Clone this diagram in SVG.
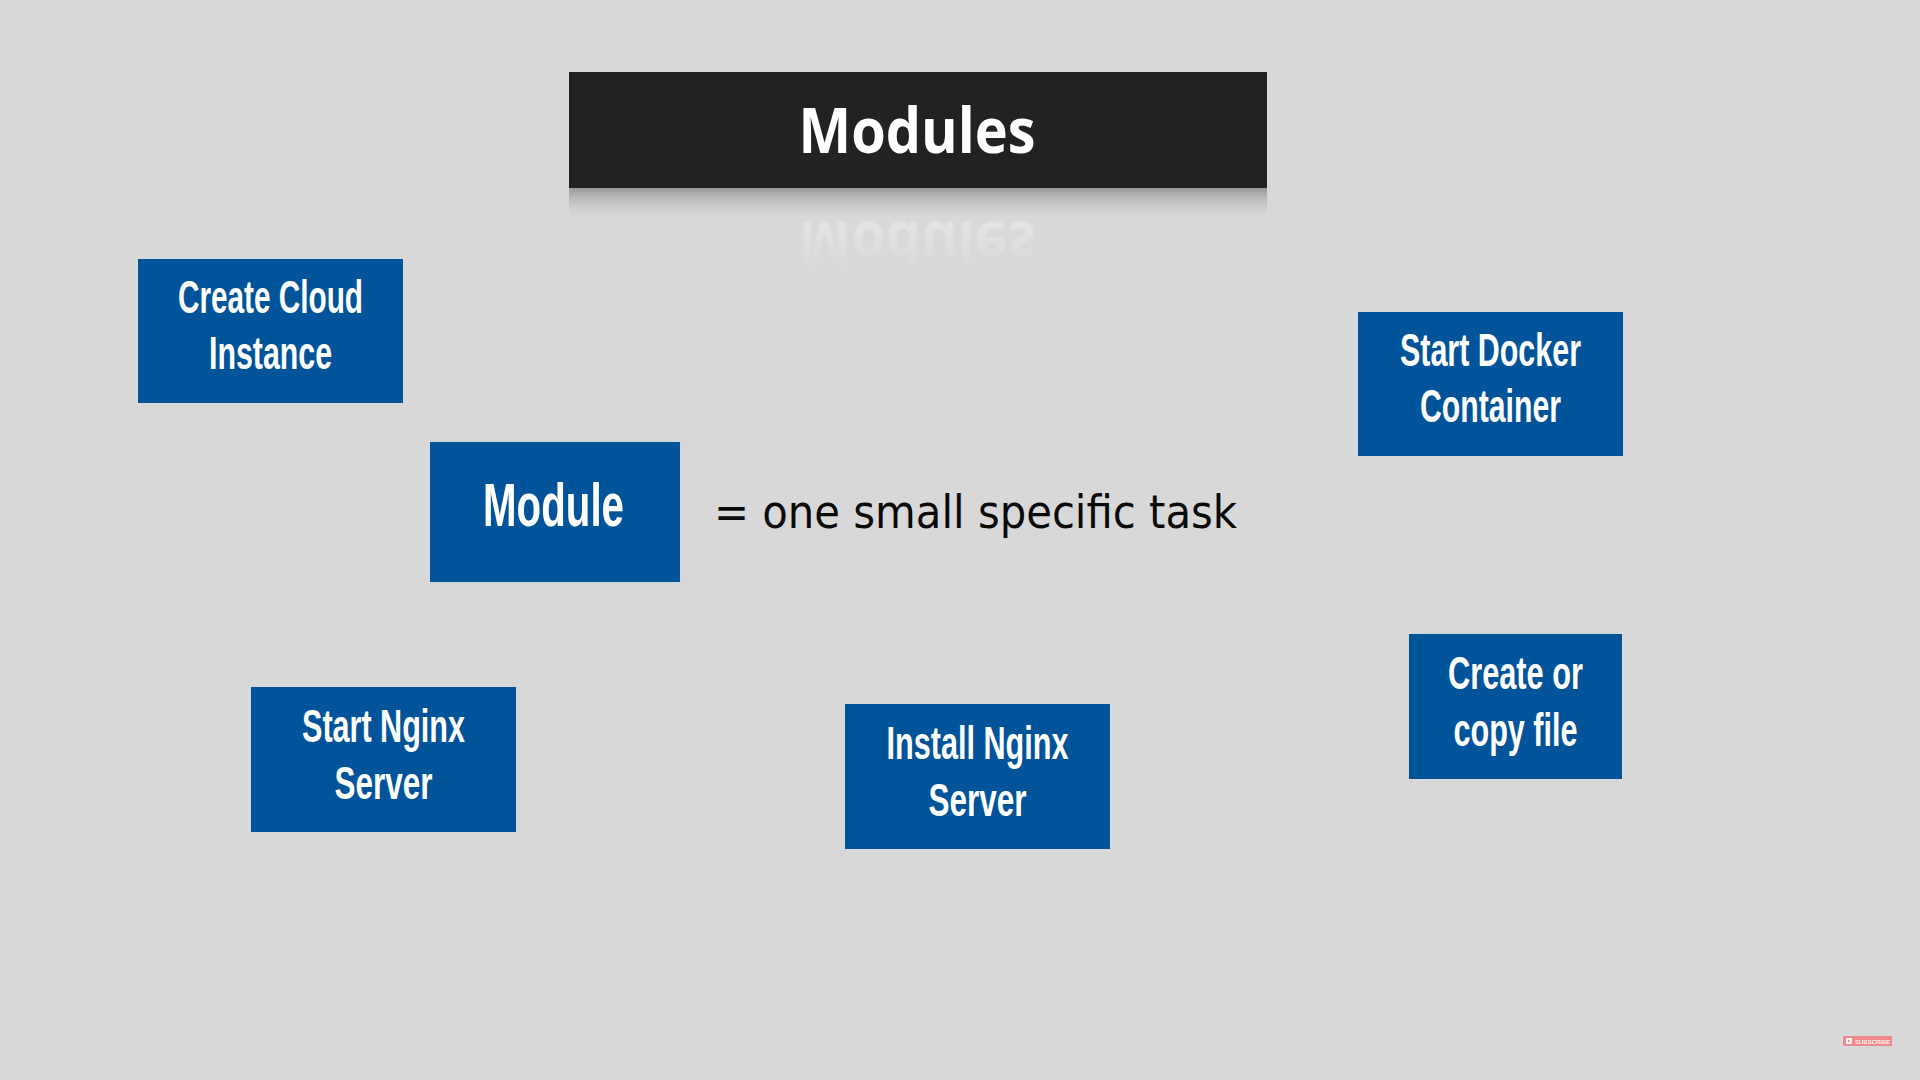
<svg xmlns="http://www.w3.org/2000/svg" width="1920" height="1080" viewBox="0 0 1920 1080">
  <defs>
    <style>
      .box { fill: #01539a; }
      .lbl { fill: #ffffff; font-family: "Liberation Sans Narrow", "Liberation Sans", Arial, sans-serif; font-weight: bold; font-size: 47px; text-anchor: middle; }
      .title { fill: #ffffff; font-family: "Open Sans", "DejaVu Sans", sans-serif; font-weight: 700; font-size: 62px; text-anchor: middle; }
      .desc { fill: #0a0a0a; font-family: "DejaVu Sans Condensed", "DejaVu Sans", sans-serif; font-size: 46px; }
    </style>
    <linearGradient id="shadow" x1="0" y1="0" x2="0" y2="1">
      <stop offset="0" stop-color="#8c8c8c" stop-opacity="0.85"/>
      <stop offset="0.5" stop-color="#b5b5b5" stop-opacity="0.5"/>
      <stop offset="1" stop-color="#d8d8d8" stop-opacity="0"/>
    </linearGradient>
    <linearGradient id="reflFade" x1="0" y1="0" x2="0" y2="1">
      <stop offset="0" stop-color="#ffffff" stop-opacity="0.6"/>
      <stop offset="1" stop-color="#ffffff" stop-opacity="0"/>
    </linearGradient>
    <mask id="reflMask" maskUnits="userSpaceOnUse" x="560" y="188" width="720" height="90">
      <rect x="560" y="208" width="720" height="62" fill="url(#reflFade)"/>
    </mask>
    <filter id="soft" x="-5%" y="-20%" width="110%" height="140%">
      <feGaussianBlur stdDeviation="1.2"/>
    </filter>
  </defs>

  <rect x="0" y="0" width="1920" height="1080" fill="#d8d8d8"/>

  <g id="title">
    <rect x="569" y="72" width="698" height="116" fill="#222222"/>
    <rect x="569" y="188" width="698" height="32" fill="url(#shadow)"/>
    <text class="title" x="917" y="153" textLength="237" lengthAdjust="spacingAndGlyphs">Modules</text>
    <g mask="url(#reflMask)">
      <text class="title" x="917" y="153" textLength="237" lengthAdjust="spacingAndGlyphs" transform="translate(0,375) scale(1,-1)" opacity="0.7" filter="url(#soft)">Modules</text>
    </g>
  </g>

  <g id="connectors"/>

  <g id="node-create-cloud-instance">
    <rect class="box" x="138" y="259" width="265" height="144"/>
    <text class="lbl" x="270.5" y="313" textLength="185" lengthAdjust="spacingAndGlyphs">Create Cloud</text>
    <text class="lbl" x="270.5" y="369" textLength="123" lengthAdjust="spacingAndGlyphs">Instance</text>
  </g>

  <g id="node-start-docker-container">
    <rect class="box" x="1358" y="312" width="265" height="144"/>
    <text class="lbl" x="1490.5" y="366" textLength="181" lengthAdjust="spacingAndGlyphs">Start Docker</text>
    <text class="lbl" x="1490.5" y="422" textLength="141" lengthAdjust="spacingAndGlyphs">Container</text>
  </g>

  <g id="node-module">
    <rect class="box" x="430" y="442" width="250" height="140"/>
    <text class="lbl" x="553.5" y="526" style="font-size:62px" textLength="141" lengthAdjust="spacingAndGlyphs">Module</text>
  </g>

  <g id="definition">
    <text class="desc" x="714" y="528" textLength="523" lengthAdjust="spacingAndGlyphs">= one small specific task</text>
  </g>

  <g id="node-start-nginx-server">
    <rect class="box" x="251" y="687" width="265" height="145"/>
    <text class="lbl" x="383.5" y="742" textLength="163" lengthAdjust="spacingAndGlyphs">Start Nginx</text>
    <text class="lbl" x="383.5" y="799" textLength="98" lengthAdjust="spacingAndGlyphs">Server</text>
  </g>

  <g id="node-install-nginx-server">
    <rect class="box" x="845" y="704" width="265" height="145"/>
    <text class="lbl" x="977.5" y="759" textLength="182" lengthAdjust="spacingAndGlyphs">Install Nginx</text>
    <text class="lbl" x="977.5" y="816" textLength="98" lengthAdjust="spacingAndGlyphs">Server</text>
  </g>

  <g id="node-create-or-copy-file">
    <rect class="box" x="1409" y="634" width="213" height="145"/>
    <text class="lbl" x="1515.5" y="689" textLength="135" lengthAdjust="spacingAndGlyphs">Create or</text>
    <text class="lbl" x="1515.5" y="746" textLength="124" lengthAdjust="spacingAndGlyphs">copy file</text>
  </g>

  <g id="subscribe">
    <rect x="1843" y="1036" width="49" height="10" rx="1" fill="#f08a8a"/>
    <rect x="1846" y="1038" width="6" height="6" fill="#ffffff" opacity="0.9"/>
    <path d="M1848 1039.5 L1850.5 1041 L1848 1042.5 Z" fill="#f08a8a"/>
    <text x="1855" y="1043.5" font-family="Liberation Sans, Arial, sans-serif" font-size="6" font-weight="bold" fill="#ffffff" opacity="0.9">SUBSCRIBE</text>
  </g>
</svg>
